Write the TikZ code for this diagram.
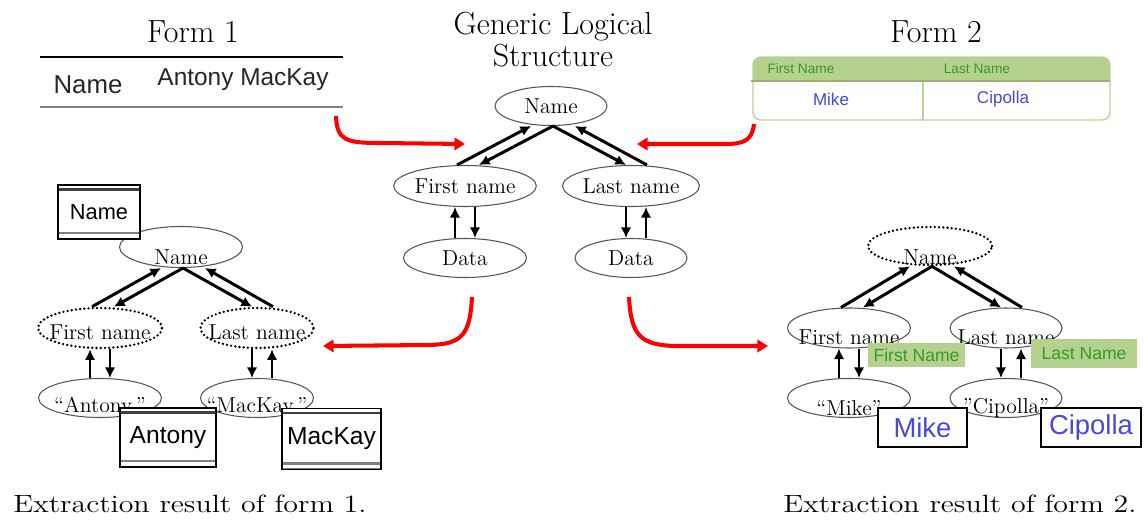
\documentclass[tikz,border=0pt]{standalone}
\usepackage{fontspec}
\usepackage{graphicx}
\newfontfamily\arial{Liberation Sans}
\usetikzlibrary{shapes.geometric,arrows.meta,calc}
\definecolor{hdrgreen}{HTML}{B5D28C}
\definecolor{bordergreen}{HTML}{B8D496}
\definecolor{txtgreen}{HTML}{35992F}
\definecolor{txtblue}{HTML}{4848DC}
\definecolor{ellgray}{HTML}{555555}
\newcommand\fsz[1]{\fontsize{#1}{#1}\selectfont}
\newcommand\treearrows[5]{%
  \draw[arr] ($(#2.north)+(-8,0)$) -- ($(#1.south)+(-20,0)$);
  \draw[arr] ($(#1.south)+(2,0)$) -- ($(#2.north)+(14,0)$);
  \draw[arr] ($(#1.south)+(2,0)$) -- ($(#3.north)+(-5,0)$);
  \draw[arr] ($(#3.north)+(16,0)$) -- ($(#1.south)+(24,0)$);
  \draw[arr] ($(#4.north)+(-10,0)$) -- ($(#2.south)+(-10,0)$);
  \draw[arr] ($(#2.south)+(10,0)$) -- ($(#4.north)+(10,0)$);
  \draw[arr] ($(#3.south)+(-5,0)$) -- ($(#5.north)+(-5,0)$);
  \draw[arr] ($(#5.north)+(15,0)$) -- ($(#3.south)+(15,0)$);
}
\tikzset{
  ell/.style={ellipse, draw=ellgray, line width=0.6pt, inner sep=0pt, minimum height=0.8cm},
  dotell/.style={ellipse, draw=black, line width=1.5pt, dash pattern=on 0pt off 2.4pt, line cap=round, inner sep=0pt, minimum height=0.8cm},
  lab/.style={font=\fsz{12.3}, inner sep=0pt},
  title/.style={font=\fsz{18.2}, inner sep=0pt},
  arr/.style={-{Latex[length=6pt,width=6pt]}, line width=1.7pt},
  redarr/.style={draw=red, line width=2.3pt, -{Triangle[length=6pt,width=7pt]}},
  fbox/.style={draw=black, line width=0.6pt, fill=white, inner sep=0pt,
    path picture={
      \draw[line width=1.2pt, black!75] ([yshift=-0.09cm]path picture bounding box.north west) -- ([yshift=-0.09cm]path picture bounding box.north east);
      \draw[line width=1.2pt, gray] ([yshift=0.12cm]path picture bounding box.south west) -- ([yshift=0.12cm]path picture bounding box.south east);
      \draw[line width=1.2pt, gray] (path picture bounding box.south west) -- (path picture bounding box.south east);
    }},
  bluebox/.style={draw=black, line width=0.6pt, fill=white, inner sep=0pt, font=\arial\fsz{15.6}, text=txtblue, minimum height=0.78cm},
  greenlab/.style={fill=hdrgreen, inner sep=0pt, font=\arial\fsz{10}, text=txtgreen}
}
\begin{document}
\begin{tikzpicture}[x=0.02cm,y=-0.02cm]
\useasboundingbox (0,0) rectangle (1144,523);
\fill[white] (0,0) rectangle (1144,523);

% titles
\node[title] (t1) at (193,32) {Form 1};
\node[title, anchor=base] (t0a) at (553,35) {Generic Logical};
\node[title, anchor=base] (t0b) at (553,67) {Structure};
\node[title] (t2) at (936,32) {Form 2};

% Form 1
\draw[line width=1.2pt] (40,57) -- (343,57);
\draw[line width=1.2pt, gray] (40,107) -- (343,107);
\node[font=\arial\fsz{14.7}, text=black!85, inner sep=0pt] (f1n) at (88,85) {Name};
\node[font=\arial\fsz{13.9}, text=black!85, inner sep=0pt] (f1v) at (243,80) {Antony MacKay};

% Form 2
\begin{scope}
  \clip[rounded corners=0.16cm] (753,57) rectangle (1110,120);
  \fill[white] (753,57) rectangle (1110,120);
  \fill[hdrgreen] (753,57) rectangle (1110,81);
\end{scope}
\draw[bordergreen, line width=0.8pt, rounded corners=0.16cm] (753,57) rectangle (1110,120);
\draw[bordergreen, line width=0.8pt] (923,81) -- (923,120);
\draw[hdrgreen!85!black, line width=0.6pt] (751,81) -- (1110,81);
\node[font=\arial\fsz{7.8}, text=txtgreen, inner sep=0pt] (f2h1) at (801,69) {First Name};
\node[font=\arial\fsz{7.8}, text=txtgreen, inner sep=0pt] (f2h2) at (977,69) {Last Name};
\node[font=\arial\fsz{9.7}, text=txtblue, inner sep=0pt] (f2v1) at (831,99) {Mike};
\node[font=\arial\fsz{9.7}, text=txtblue, inner sep=0pt] (f2v2) at (1003,99) {Cipolla};

% central structure
\node[ell, lab, minimum width=2.24cm, minimum height=0.78cm] (cN) at (551,106) {Name};
\node[ell, lab, minimum width=2.46cm, minimum height=0.82cm] (cF) at (465,186) {First name};
\node[ell, lab, minimum width=2.24cm, minimum height=0.82cm] (cL) at (631,186) {Last name};
\node[ell, lab, minimum width=2.46cm, minimum height=0.78cm] (cD1) at (465,258) {Data};
\node[ell, lab, minimum width=2.24cm, minimum height=0.78cm] (cD2) at (631,258) {Data};
\treearrows{cN}{cF}{cL}{cD1}{cD2}

% left extraction
\node[ell, minimum width=2.46cm, minimum height=0.82cm] (lN) at (181,247) {};
\node[lab] (lNt) at (181,257) {Name};
\node[dotell, minimum width=2.48cm] (lF) at (100,328) {};
\node[lab] (lFt) at (100,332) {First name};
\node[dotell, minimum width=2.26cm] (lL) at (257,328) {};
\node[lab] (lLt) at (257,332) {Last name};
\node[ell, minimum width=2.46cm, minimum height=0.78cm] (lA) at (100,398) {};
\node[lab] (lAt) at (100,407) {``Antony\,''};
\node[ell, minimum width=2.26cm, minimum height=0.78cm] (lM) at (257,398) {};
\node[lab] (lMt) at (257,407) {``MacKay\,''};
\treearrows{lN}{lF}{lL}{lA}{lM}
\node[fbox, minimum width=1.64cm, minimum height=1.08cm, font=\arial\fsz{12.4}] (bName) at (99,212) {Name};
\node[fbox, minimum width=1.92cm, minimum height=1.18cm, font=\arial\fsz{14}] (bAnt) at (168,437.5) {Antony};
\node[fbox, minimum width=1.98cm, minimum height=1.22cm, font=\arial\fsz{14}] (bMac) at (331.5,439) {MacKay};

% right extraction
\node[dotell, minimum width=2.48cm, minimum height=0.76cm] (rN) at (930,246) {};
\node[lab] (rNt) at (930,257) {Name};
\node[ell, minimum width=2.46cm] (rF) at (849,328) {};
\node[lab] (rFt) at (849,337) {First name};
\node[ell, minimum width=2.24cm] (rL) at (1006,328) {};
\node[lab] (rLt) at (1006,337) {Last name};
\node[ell, minimum width=2.46cm, minimum height=0.78cm] (rM) at (849,398) {};
\node[lab] (rMt) at (849,408) {``Mike''};
\node[ell, minimum width=2.24cm, minimum height=0.78cm] (rC) at (1006,398) {};
\node[lab] (rCt) at (1006,408) {''Cipolla''};
\treearrows{rN}{rF}{rL}{rM}{rC}
\node[greenlab, minimum width=1.94cm, minimum height=0.48cm] (gF) at (916.5,355) {First Name};
\node[greenlab, minimum width=2.12cm, minimum height=0.58cm] (gL) at (1084,353.5) {Last Name};
\node[bluebox, minimum width=1.78cm] (bMike) at (922.5,427.5) {Mike};
\node[bluebox, minimum width=2cm] (bCip) at (1091,427.5) {Cipolla};

% red arrows
\coordinate (r1s) at (336,116);
\coordinate (r1e) at (465,144);
\coordinate (r2s) at (754,124);
\coordinate (r2e) at (637,144);
\coordinate (r3s) at (472,297);
\coordinate (r3e) at (323,346);
\coordinate (r4s) at (629,297);
\coordinate (r4e) at (768,346);
\draw[redarr] (r1s) .. controls (337,140) and (345,143) .. (380,143) -- (r1e);
\draw[redarr] (r2s) .. controls (752,140) and (745,144) .. (725,144) -- (r2e);
\draw[redarr] (r3s) .. controls (470,335) and (462,344) .. (430,345) -- (r3e);
\draw[redarr] (r4s) .. controls (631,335) and (640,345) .. (675,346) -- (r4e);

% captions
\node[font=\fsz{14.2}, anchor=base west, inner sep=0pt] (cap1) at (13,513) {\scalebox{1.2}[1]{Extraction result of form 1.}};
\node[font=\fsz{14.2}, anchor=base west, inner sep=0pt] (cap2) at (783,513) {\scalebox{1.2}[1]{Extraction result of form 2.}};
\end{tikzpicture}
\end{document}
